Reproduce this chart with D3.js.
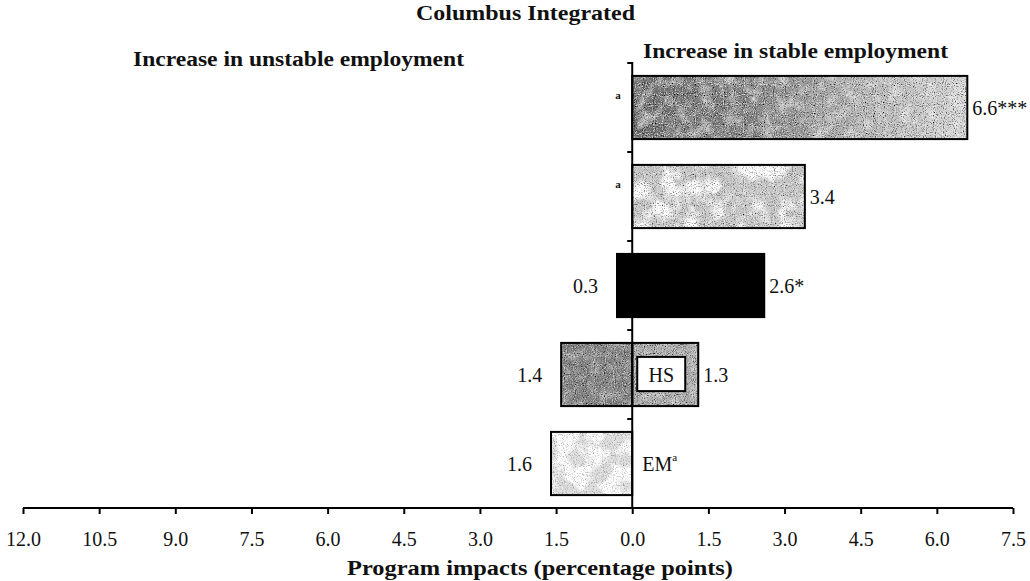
<!DOCTYPE html>
<html>
<head>
<meta charset="utf-8">
<script src="https://cdn.jsdelivr.net/npm/d3@7"></script>
<style>
  body { margin: 0; background: #fff; }
  svg text { font-family: "Liberation Serif", "Times New Roman", serif; fill: #111; }
</style>
</head>
<body>
<div class="chart"></div>
<script>
// rows, top to bottom
const rows = ["r1", "r2", "r3", "HS", "EM"];
const stableValues = [6.6, 3.4, 2.6, 1.3, null];
const unstableValues = [null, null, 0.3, 1.4, 1.6];
const stableLabels = ["6.6***", "3.4", "2.6*", "1.3", ""];
const unstableLabels = ["", "", "0.3", "1.4", "1.6"];
const noteLabels = ["a", "a", "", "", ""];
const xTicks = [-12, -10.5, -9, -7.5, -6, -4.5, -3, -1.5, 0, 1.5, 3, 4.5, 6, 7.5];

const width = 1030;
const height = 581;

const svg = d3.select('.chart')
  .append('svg')
  .attr('width', width)
  .attr('height', height)

const x = d3.scaleLinear().domain([-12, 7.5]).range([23, 1013]);
const y = d3.scaleBand().domain(rows).range([63, 508]).paddingInner(0.29).paddingOuter(0.145);

// scan-like textures
const defs = svg.append('defs');
function grainFilter(id, dark, light, blotch, freq, seed) {
  const f = defs.append('filter').attr('id', id)
    .attr('x', 0).attr('y', 0).attr('width', '100%').attr('height', '100%');
  f.append('feTurbulence').attr('type', 'fractalNoise').attr('baseFrequency', 0.9)
    .attr('numOctaves', 1).attr('seed', seed).attr('result', 'fine');
  f.append('feColorMatrix').attr('in', 'fine').attr('type', 'matrix')
    .attr('values', '0 0 0 0 0  0 0 0 0 0  0 0 0 0 0  ' + dark + ' 0 0 0 ' + (-dark * 0.5)).attr('result', 'dots');
  f.append('feComposite').attr('in', 'dots').attr('in2', 'SourceGraphic').attr('operator', 'in').attr('result', 'dotsClip');
  f.append('feColorMatrix').attr('in', 'fine').attr('type', 'matrix')
    .attr('values', '0 0 0 0 1  0 0 0 0 1  0 0 0 0 1  0 ' + (-light) + ' 0 0 ' + (light * 0.5)).attr('result', 'wdots');
  f.append('feComposite').attr('in', 'wdots').attr('in2', 'SourceGraphic').attr('operator', 'in').attr('result', 'wdotsClip');
  f.append('feTurbulence').attr('type', 'fractalNoise').attr('baseFrequency', freq)
    .attr('numOctaves', 3).attr('seed', seed + 7).attr('result', 'low');
  f.append('feColorMatrix').attr('in', 'low').attr('type', 'matrix')
    .attr('values', '0 0 0 0 1  0 0 0 0 1  0 0 0 0 1  ' + blotch + ' 0 0 0 ' + (-blotch * 0.45)).attr('result', 'white');
  f.append('feComposite').attr('in', 'white').attr('in2', 'SourceGraphic').attr('operator', 'in').attr('result', 'whiteClip');
  const m = f.append('feMerge');
  m.append('feMergeNode').attr('in', 'SourceGraphic');
  m.append('feMergeNode').attr('in', 'whiteClip');
  m.append('feMergeNode').attr('in', 'wdotsClip');
  m.append('feMergeNode').attr('in', 'dotsClip');
}
grainFilter('grainA', 3.5, 2.5, 1.2, 0.08, 3);
grainFilter('grainB', 3, 2.5, 4, 0.05, 11);
grainFilter('grainC', 2.2, 1.5, 7, 0.045, 19);
grainFilter('grainD', 3.5, 2, 0.8, 0.1, 27);

const grad = defs.append('linearGradient').attr('id', 'fade');
grad.append('stop').attr('offset', '0%').attr('stop-color', '#6a6a6a');
grad.append('stop').attr('offset', '35%').attr('stop-color', '#838383');
grad.append('stop').attr('offset', '70%').attr('stop-color', '#b8b8b8');
grad.append('stop').attr('offset', '100%').attr('stop-color', '#d6d6d6');

// fill styles per row
const stableFill = { r1: ['url(#fade)', 'grainA'], r2: ['#c8c8c8', 'grainB'], r3: ['#000', null], HS: ['#acacac', 'grainD'] };
const unstableFill = { r3: ['#000', null], HS: ['#808080', 'grainD'], EM: ['#dedede', 'grainC'] };

const data = rows.map((r, i) => ({
  row: r, stable: stableValues[i], unstable: unstableValues[i],
  sLab: stableLabels[i], uLab: unstableLabels[i], note: noteLabels[i]
}));

// stable bars (right)
const sData = data.filter(d => d.stable != null);
svg.selectAll('.sfill')
  .data(sData)
  .enter()
  .append('rect')
  .attr('x', x(0))
  .attr('y', d => y(d.row))
  .attr('width', d => x(d.stable) - x(0))
  .attr('height', y.bandwidth())
  .attr('fill', d => stableFill[d.row][0])
  .attr('filter', d => stableFill[d.row][1] ? 'url(#' + stableFill[d.row][1] + ')' : null)
svg.selectAll('.sbox')
  .data(sData)
  .enter()
  .append('rect')
  .attr('x', x(0))
  .attr('y', d => y(d.row))
  .attr('width', d => x(d.stable) - x(0))
  .attr('height', y.bandwidth())
  .attr('fill', 'none')
  .attr('stroke', '#000')
  .attr('stroke-width', 2)

// unstable bars (left)
const uData = data.filter(d => d.unstable != null);
svg.selectAll('.ufill')
  .data(uData)
  .enter()
  .append('rect')
  .attr('x', d => x(-d.unstable))
  .attr('y', d => y(d.row))
  .attr('width', d => x(0) - x(-d.unstable))
  .attr('height', y.bandwidth())
  .attr('fill', d => unstableFill[d.row][0])
  .attr('filter', d => unstableFill[d.row][1] ? 'url(#' + unstableFill[d.row][1] + ')' : null)
svg.selectAll('.ubox')
  .data(uData)
  .enter()
  .append('rect')
  .attr('x', d => x(-d.unstable))
  .attr('y', d => y(d.row))
  .attr('width', d => x(0) - x(-d.unstable))
  .attr('height', y.bandwidth())
  .attr('fill', 'none')
  .attr('stroke', '#000')
  .attr('stroke-width', 2)

// value labels
svg.selectAll('.slab')
  .data(sData)
  .enter()
  .append('text')
  .attr('x', d => x(d.stable) + 5)
  .attr('y', d => y(d.row) + y.bandwidth() / 2 + 7)
  .attr('font-size', 20)
  .text(d => d.sLab)
svg.selectAll('.ulab')
  .data(uData)
  .enter()
  .append('text')
  .attr('x', d => x(-d.unstable) - 19)
  .attr('y', d => y(d.row) + y.bandwidth() / 2 + 7)
  .attr('text-anchor', 'end')
  .attr('font-size', 20)
  .text(d => d.uLab)

// small "a" notes
svg.selectAll('.note')
  .data(data.filter(d => d.note))
  .enter()
  .append('text')
  .attr('x', x(0) - 17)
  .attr('y', d => y(d.row) + y.bandwidth() / 2 - 9)
  .attr('font-size', 11)
  .attr('font-weight', 'bold')
  .text(d => d.note)

// HS box label
const hs = data.find(d => d.row === 'HS');
svg.append('rect')
  .attr('x', x(0) + 5).attr('y', y('HS') + 14)
  .attr('width', 48).attr('height', y.bandwidth() - 29)
  .attr('fill', '#fff').attr('stroke', '#000').attr('stroke-width', 2)
svg.append('text')
  .attr('x', x(0) + 29).attr('y', y('HS') + y.bandwidth() / 2 + 7)
  .attr('text-anchor', 'middle').attr('font-size', 20)
  .text(hs.row)

// EM label
const em = svg.append('text')
  .attr('x', x(0) + 10).attr('y', y('EM') + y.bandwidth() / 2 + 7)
  .attr('font-size', 20)
  .text('EM')
em.append('tspan').attr('dy', -10).attr('font-size', 11).text('a')

// vertical axis
const yg = svg.append('g').attr('transform', 'translate(' + x(0) + ',0)');
yg.append('line').attr('x1', 0).attr('x2', 0).attr('y1', 62).attr('y2', 508)
  .attr('stroke', '#000').attr('stroke-width', 2)
yg.selectAll('.ytick')
  .data(rows.map(r => y(r) - y.step() * y.paddingInner() / 2))
  .enter()
  .append('line')
  .attr('x1', -5).attr('x2', 0)
  .attr('y1', d => Math.max(d, 63)).attr('y2', d => Math.max(d, 63))
  .attr('stroke', '#000').attr('stroke-width', 2)

// horizontal axis
const xAxis = d3.axisBottom(x)
  .tickValues(xTicks)
  .tickSize(6)
  .tickFormat(d => d3.format('.1f')(Math.abs(d)));
const xg = svg.append('g')
  .attr('transform', 'translate(0,508)')
  .call(xAxis)
xg.select('.domain').attr('stroke-width', 2).attr('d', 'M23,0H1013')
xg.selectAll('.tick line').attr('stroke-width', 2)
xg.selectAll('.tick text')
  .attr('y', 38)
  .attr('dy', 0)
  .attr('font-family', '"Liberation Serif", serif')
  .attr('font-size', 20)
  .attr('fill', '#111')

// titles
svg.append('text').attr('x', 416).attr('y', 20)
  .attr('font-size', 20).attr('font-weight', 'bold')
  .attr('textLength', 219).attr('lengthAdjust', 'spacingAndGlyphs')
  .text('Columbus Integrated')
svg.append('text').attr('x', 133).attr('y', 66)
  .attr('font-size', 20).attr('font-weight', 'bold')
  .attr('textLength', 331).attr('lengthAdjust', 'spacingAndGlyphs')
  .text('Increase in unstable employment')
svg.append('text').attr('x', 643).attr('y', 58)
  .attr('font-size', 20).attr('font-weight', 'bold')
  .attr('textLength', 305).attr('lengthAdjust', 'spacingAndGlyphs')
  .text('Increase in stable employment')
svg.append('text').attr('x', 347).attr('y', 575)
  .attr('font-size', 20).attr('font-weight', 'bold')
  .attr('textLength', 386).attr('lengthAdjust', 'spacingAndGlyphs')
  .text('Program impacts (percentage points)')
</script>
</body>
</html>
